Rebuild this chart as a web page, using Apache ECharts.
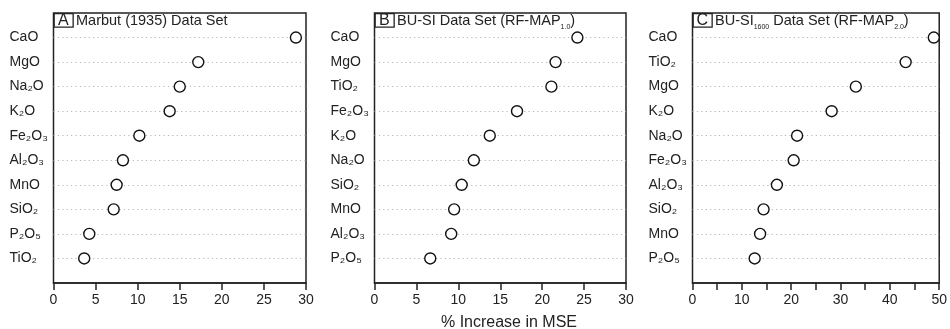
<!DOCTYPE html>
<html>
<head>
<meta charset="utf-8">
<script src="https://cdn.jsdelivr.net/npm/echarts@6/dist/echarts.min.js"></script>
<style>
html,body{margin:0;padding:0;background:#fff;}
#chart{width:950px;height:329px;}
</style>
</head>
<body>
<div id="chart"></div>
<script>
// ---- data ----
var categoriesA = ['CaO','MgO','Na₂O','K₂O','Fe₂O₃','Al₂O₃','MnO','SiO₂','P₂O₅','TiO₂'];
var valuesA = [28.8, 17.2, 15.0, 13.8, 10.2, 8.25, 7.5, 7.15, 4.25, 3.65];
var categoriesB = ['CaO','MgO','TiO₂','Fe₂O₃','K₂O','Na₂O','SiO₂','MnO','Al₂O₃','P₂O₅'];
var valuesB = [24.2, 21.6, 21.1, 17.0, 13.75, 11.85, 10.4, 9.5, 9.15, 6.65];
var categoriesC = ['CaO','TiO₂','MgO','K₂O','Na₂O','Fe₂O₃','Al₂O₃','SiO₂','MnO','P₂O₅'];
var valuesC = [48.9, 43.2, 33.1, 28.2, 21.2, 20.5, 17.1, 14.4, 13.7, 12.6];
var xTicksAB = [0, 5, 10, 15, 20, 25, 30];
var xTicksC = [0, 10, 20, 30, 40, 50];
var axisTitle = '% Increase in MSE';

var FONT = '"Liberation Sans", Arial, Helvetica, sans-serif';
var TXT = '#222';

var panels = [
  {left: 53.5, width: 252.5, cats: categoriesA, vals: valuesA, max: 30, ticks: xTicksAB, letter: 'A',
   title: '{m|Marbut (1935) Data Set}'},
  {left: 374.5, width: 251.5, cats: categoriesB, vals: valuesB, max: 30, ticks: xTicksAB, letter: 'B',
   title: '{m|BU-SI Data Set (RF-MAP}{s|1.0}{m|)}'},
  {left: 692.5, width: 253, cats: categoriesC, vals: valuesC, max: 50, ticks: xTicksC, letter: 'C',
   title: '{m|BU-SI}{s|1600}{m| Data Set (RF-MAP}{s|2.0}{m|)}'}
];

var grids = [], xAxes = [], yAxes = [], series = [], graphics = [];
panels.forEach(function (p, i) {
  grids.push({left: p.left, width: p.width, top: 13, height: 270, show: true,
    borderColor: '#222', borderWidth: 1.5, backgroundColor: 'transparent'});
  var cats = [''].concat(p.cats).concat(['']);
  var tickSet = p.ticks;
  xAxes.push({type: 'value', gridIndex: i, min: 0, max: p.max, interval: 5,
    axisLine: {show: true, lineStyle: {color: '#222', width: 1.5}},
    axisTick: {show: true, inside: false, length: 7, lineStyle: {color: '#222', width: 1.5}},
    splitLine: {show: false},
    axisLabel: {color: TXT, fontSize: 14, fontFamily: FONT, margin: 10,
      formatter: function (v) { return tickSet.indexOf(v) >= 0 ? String(v) : ''; }}
  });
  yAxes.push({type: 'category', gridIndex: i, data: cats, inverse: true, boundaryGap: false,
    axisLine: {show: false}, axisTick: {show: false},
    axisLabel: {color: TXT, fontSize: 14, fontFamily: FONT, align: 'left', margin: 44, interval: 0},
    splitLine: {show: true, interval: function (idx, val) { return val !== ''; },
      lineStyle: {color: '#b5b5b5', width: 1, type: [1.2, 3.2]}}
  });
  series.push({type: 'scatter', xAxisIndex: i, yAxisIndex: i, symbol: 'circle', symbolSize: 11,
    itemStyle: {color: '#fff', borderColor: '#111', borderWidth: 1.4, opacity: 1},
    emphasis: {disabled: true}, clip: true,
    data: p.vals.map(function (v, k) { return [v, p.cats[k]]; })
  });
  graphics.push({type: 'rect', left: p.left, top: 13,
    shape: {x: 0, y: 0, width: 19, height: 13.5},
    style: {fill: 'transparent', stroke: '#222', lineWidth: 1.3}});
  graphics.push({type: 'text', x: p.left + 9.8, y: 20.3,
    style: {text: p.letter, font: '16px ' + FONT, fill: TXT, align: 'center', verticalAlign: 'middle'}});
  graphics.push({type: 'text', x: p.left + 22.5, y: 22,
    style: {text: p.title, align: 'left', verticalAlign: 'middle', fill: TXT,
      rich: {
        m: {fontSize: 14.5, fontFamily: FONT, color: TXT, lineHeight: 18, verticalAlign: 'top'},
        s: {fontSize: 7, fontFamily: FONT, color: TXT, lineHeight: 10, verticalAlign: 'bottom'}
      }}});
});
graphics.push({type: 'text', x: 509, y: 322.5,
  style: {text: axisTitle, font: '16px ' + FONT, fill: TXT, align: 'center', verticalAlign: 'middle'}});

var chart = echarts.init(document.getElementById('chart'), null, {renderer: 'canvas'});
chart.setOption({
  animation: false,
  backgroundColor: '#fff',
  grid: grids, xAxis: xAxes, yAxis: yAxes, series: series, graphic: graphics
});
</script>
</body>
</html>
